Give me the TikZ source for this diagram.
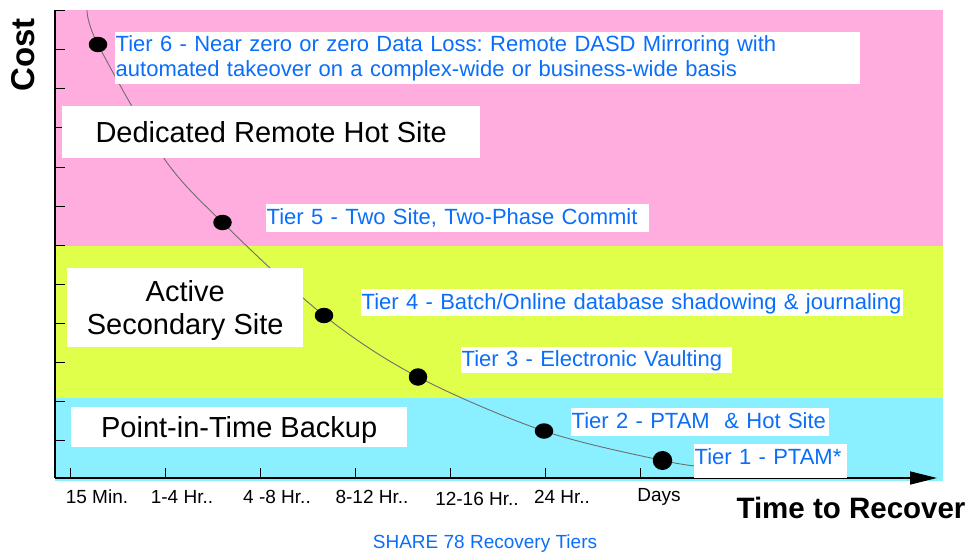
\documentclass[tikz,border=0pt]{standalone}
\usepackage{fontspec}
\setmainfont{Liberation Sans}
\usetikzlibrary{arrows.meta,shapes.geometric}
\definecolor{bgpink}{RGB}{255,173,222}
\definecolor{bgyellow}{RGB}{224,255,74}
\definecolor{bgcyan}{RGB}{138,240,255}
\definecolor{tierblue}{RGB}{10,110,250}
\definecolor{curvegray}{RGB}{110,110,110}
\frenchspacing
\begin{document}
\begin{tikzpicture}[x=1pt,y=-1pt,
  tierbox/.style={fill=white, text=tierblue, font=\fontsize{22}{24.5}\selectfont,
    anchor=north west, inner xsep=0.5pt, inner ysep=0pt, align=left,
    text height=16pt, text depth=3pt},
  bigbox/.style={fill=white, text=black, font=\fontsize{29}{33}\selectfont,
    anchor=north west, inner sep=0pt, align=center},
  tierdot/.style={ellipse, fill=black, inner sep=0pt, minimum width=18.5pt, minimum height=15.5pt},
  ticklabel/.style={font=\fontsize{19}{22}\selectfont, inner sep=0pt},
  axislabel/.style={font=\bfseries\fontsize{29.5}{33}\selectfont, inner sep=0pt},
  tickline/.style={line width=1pt, black}
]
\useasboundingbox (0,0) rectangle (970,557);

% background bands
\fill[bgpink]   (55,10)  rectangle (943,245.5);
\fill[bgyellow] (55,245.5) rectangle (943,397.5);
\fill[bgcyan]   (55,397.5) rectangle (943,481);

% curve points
\coordinate (c0) at (87,10);
\coordinate (p6) at (98,44.5);
\coordinate (ca) at (163,157);
\coordinate (p5) at (222.5,222.5);
\coordinate (p4) at (324,315.5);
\coordinate (p3) at (418,377);
\coordinate (p2) at (544,431);
\coordinate (p1) at (662.5,460.5);
\coordinate (ce) at (705,467);

\draw[curvegray, line width=0.9pt] plot[smooth, tension=0.55] coordinates
  {(c0) (p6) (ca) (p5) (p4) (p3) (p2) (p1) (ce)};

% axes
\coordinate (origin) at (55,478);
\coordinate (ytop) at (55,10);
\coordinate (xend) at (937,478);
\draw[line width=1.6pt] (ytop) -- (origin);
\draw[line width=1.6pt, -{Triangle[length=27pt,width=13pt]}] (origin) -- (xend);

% y ticks
\foreach \k in {0,...,11} {
  \draw[tickline] (55,{10.8+39.05*\k}) -- ++(10,0);
}
% x ticks
\foreach \k in {0,...,7} {
  \draw[tickline] ({70+95*\k},478) -- ++(0,-10);
}

% boxes
\node[bigbox, minimum width=418pt, minimum height=52pt, text height=21pt, text depth=0pt]
  (ded) at (62,106) {Dedicated Remote Hot Site};
\node[bigbox, minimum width=236pt, minimum height=79pt]
  (act) at (67,268) {\rule{0pt}{27pt}Active\\Secondary Site};
\node[bigbox, minimum width=336pt, minimum height=40pt, text height=21pt, text depth=0pt]
  (pit) at (71,407) {Point-in-Time Backup};

\node[tierbox, text width=744pt, minimum height=52pt, text height={}, text depth={}]
  (t6) at (115,32) {Tier 6 - Near zero or zero Data Loss: Remote DASD Mirroring with\\automated takeover on a complex-wide or business-wide basis};
\node[tierbox, text width=382pt, minimum height=28pt] (t5) at (266,204) {Tier 5 - Two Site, Two-Phase Commit};
\node[tierbox, text width=541pt, minimum height=27pt] (t4) at (361,289) {Tier 4 - Batch/Online database shadowing \& journaling};
\node[tierbox, text width=270pt, minimum height=26pt] (t3) at (461,347) {Tier 3 - Electronic Vaulting};
\node[tierbox, text width=257pt, minimum height=28pt] (t2) at (571,408) {Tier 2 - PTAM\ \ \& Hot Site};
\node[tierbox, text width=152pt, minimum height=34pt, text depth=9pt] (t1) at (694,444) {Tier 1 - PTAM*};

% dots
\node[tierdot] (d6) at (p6) {};
\node[tierdot] (d5) at (p5) {};
\node[tierdot] (d4) at (p4) {};
\node[tierdot, minimum width=18.5pt, minimum height=17.5pt] (d3) at (p3) {};
\node[tierdot] (d2) at (p2) {};
\node[tierdot, minimum width=19.5pt, minimum height=19pt] (d1) at (p1) {};

% tick labels
\node[ticklabel] (l1) at (97,497) {15 Min.};
\node[ticklabel] (l2) at (182,497) {1-4 Hr..};
\node[ticklabel] (l3) at (277,497) {4 -8 Hr..};
\node[ticklabel] (l4) at (372,497) {8-12 Hr..};
\node[ticklabel] (l5) at (477,499) {12-16 Hr..};
\node[ticklabel] (l6) at (562,497) {24 Hr..};
\node[ticklabel] (l7) at (659,497) {Days};

% axis labels
\node[axislabel, font=\bfseries\fontsize{33}{36}\selectfont, rotate=90] (cost) at (23,55) {Cost};
\node[axislabel] (ttr) at (851,508) {Time to Recover};

% caption
\node[font=\fontsize{19}{22}\selectfont, text=tierblue, inner sep=0pt] (cap) at (485,544) {SHARE 78 Recovery Tiers};
\end{tikzpicture}
\end{document}
